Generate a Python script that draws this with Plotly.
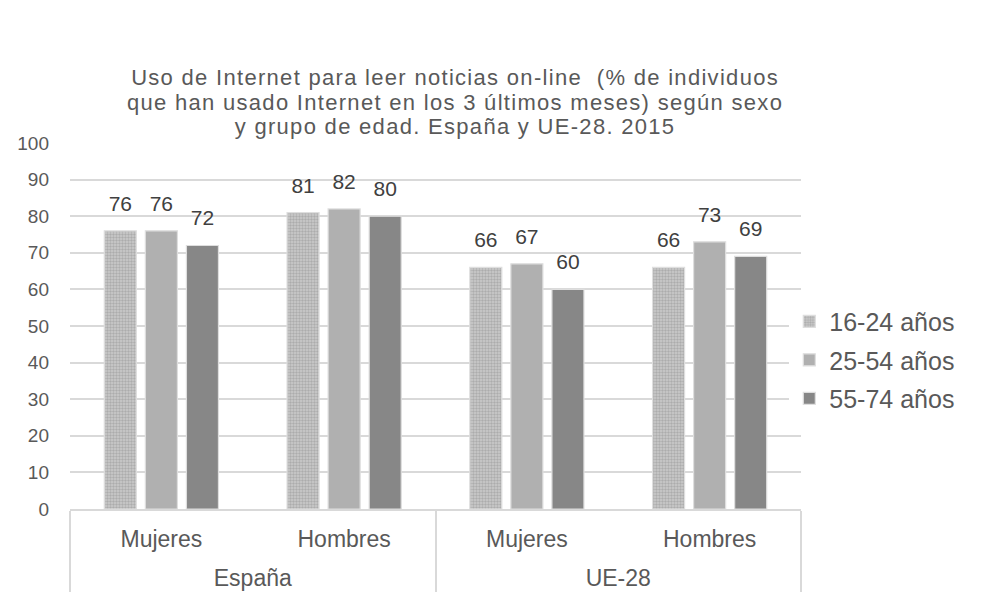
import plotly.graph_objects as go

regions = ["España", "España", "UE-28", "UE-28"]
sexes = ["Mujeres", "Hombres", "Mujeres", "Hombres"]
series_names = ["16-24 años", "25-54 años", "55-74 años"]
v_16_24 = [76, 81, 66, 66]
v_25_54 = [76, 82, 67, 73]
v_55_74 = [72, 80, 60, 69]
y_ticks = [0, 10, 20, 30, 40, 50, 60, 70, 80, 90, 100]
title_lines = [
    "Uso de Internet para leer noticias on-line  (% de individuos",
    "que han usado Internet en los 3 últimos meses) según sexo",
    "y grupo de edad. España y UE-28. 2015",
]

FONT = "Liberation Sans, Arial, sans-serif"
TXT = "#595959"
BARGAP = 0.326
LBL = 23  # axis category label size


def big(s, px, spacing=0):
    ls = f";letter-spacing:{spacing}px" if spacing else ""
    return f"<span style='font-size:{px}px{ls}'>{s}</span>"


x_outer = ["<br>" + big(r, LBL) for r in regions]
x_inner = [big(s, LBL) for s in sexes]

fig = go.Figure()
styles = [
    dict(color="#c4c4c4", pattern=dict(shape=".", fgcolor="#8c8c8c", bgcolor="#cccccc", size=3, solidity=0.5)),
    dict(color="#b0b0b0"),
    dict(color="#878787"),
]
all_vals = [v_16_24, v_25_54, v_55_74]
for i, (name, vals) in enumerate(zip(series_names, all_vals)):
    st = styles[i]
    marker = dict(color=st["color"], line=dict(color="#dedede", width=1.2))
    if "pattern" in st:
        marker["pattern"] = st["pattern"]
    fig.add_trace(go.Bar(
        x=[x_outer, x_inner], y=vals, name=name, marker=marker,
        offsetgroup=str(i), legendgroup=name,
    ))

# data labels, grouped like the bars
for i, (name, vals) in enumerate(zip(series_names, all_vals)):
    fig.add_trace(go.Scatter(
        x=[x_outer, x_inner], y=vals, mode="markers+text",
        text=[str(v) for v in vals], textposition="top center",
        textfont=dict(family=FONT, size=21, color="#404040"),
        marker=dict(size=22, opacity=0), offsetgroup=str(i),
        showlegend=False, hoverinfo="skip", cliponaxis=False,
    ))

fig.update_layout(
    width=985, height=595,
    margin=dict(l=70, r=184, t=143, b=86),
    paper_bgcolor="white", plot_bgcolor="white",
    barmode="group", bargap=BARGAP, bargroupgap=0.22,
    scattermode="group", scattergap=BARGAP,
    title=dict(
        text="<br>".join(big(t, 22, 1.3) for t in title_lines),
        x=0.462, xref="container", xanchor="center",
        y=1 - 85 / 595, yref="container", yanchor="top",
        font=dict(family=FONT, size=19, color=TXT),
    ),
    font=dict(family=FONT, size=24, color=TXT),
    legend=dict(
        x=0.984, xanchor="left", y=0.407, yanchor="middle",
        font=dict(family=FONT, size=25, color=TXT),
        tracegroupgap=3, itemwidth=30,
    ),
)
fig.update_yaxes(
    range=[0, 100], tickvals=y_ticks, showgrid=True, gridcolor="#d9d9d9", gridwidth=1.5,
    zeroline=False, showline=False, ticks="", ticklabelstandoff=20,
    tickfont=dict(family=FONT, size=19, color=TXT), automargin=False,
)
fig.update_xaxes(
    showline=True, linecolor="#d9d9d9", linewidth=1.5,
    showdividers=True, dividercolor="#d9d9d9", dividerwidth=1.5,
    ticks="", tickfont=dict(family=FONT, size=19, color=TXT),
    ticklabelstandoff=13, automargin=False,
)

fig.write_html("out.html")
